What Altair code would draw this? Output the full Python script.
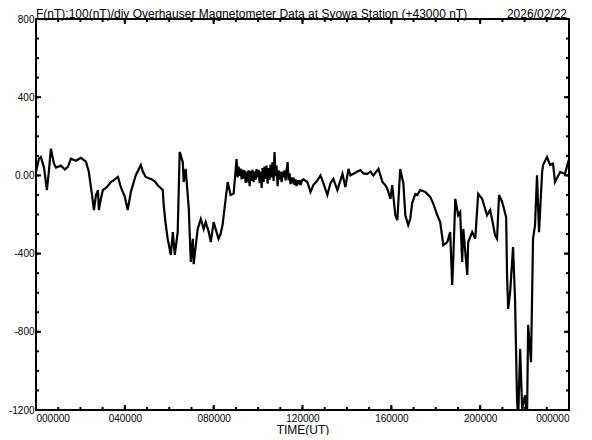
import altair as alt
import pandas as pd

# Traced series: time (hours UT) and F deviation (nT, relative to +43000 nT)
hours_early = [0.00,0.13,0.22,0.36,0.49,0.58,0.67,0.81,0.90,1.12,1.30,1.44,1.57,1.80,2.02,2.25,2.38,2.52,2.61,2.70,
               2.79,2.83,2.92,3.01,3.19,3.37,3.55,3.69,3.82,4.00,4.13,4.27,4.49,4.72,4.81,4.94,5.17,5.35,5.48,5.71,
               5.75,5.84,5.93,6.07,6.16,6.25,6.38,6.47,6.61,6.65,6.74,6.88,6.97,7.06,7.10,7.28,7.42,7.55,7.64,7.78,
               7.87,8.00,8.13,8.22,8.31,8.40,8.54,8.63,8.76,8.90]
values_early = [17,85,94,40,-75,20,137,60,40,50,30,45,85,75,90,70,17,-100,-177,-100,
                -75,-177,-120,-75,-60,-34,-20,-8,-60,-110,-177,-85,0,53,20,-8,-18,-30,-50,-75,
                -152,-250,-324,-407,-290,-407,-290,120,68,-34,33,-172,-443,-324,-454,-274,-223,-274,-239,-290,
                -341,-239,-290,-324,-300,-254,-120,-34,-100,-93]

hours_noisy = [9.03,9.08,9.12,9.17,9.21,9.26,9.30,9.35,9.39,9.44,9.48,9.53,9.57,9.62,9.66,9.71,9.75,9.80,9.84,9.89,
               9.93,9.98,10.02,10.07,10.11,10.16,10.20,10.25,10.29,10.34,10.38,10.43,10.47,10.52,10.56,10.61,10.65,10.70,10.74,10.79,
               10.83,10.88,10.92,10.97,11.01,11.06,11.10,11.15,11.19,11.24,11.28,11.33,11.37,11.42,11.46,11.51,11.55,11.60,11.64,11.69,
               11.73,11.78,11.82,11.87,11.91,11.98]
values_noisy = [84,-10,45,-3,35,-20,29,-16,26,-39,20,-34,26,-55,23,-28,29,-34,20,-22,
                32,-10,29,-40,20,-64,37,-34,45,-16,50,-43,38,-22,56,-10,68,-28,120,-4,
                50,-55,26,-22,18,-34,20,-10,26,-25,22,68,-25,10,-45,-10,-40,-12,-48,-20,
                -55,-25,-45,-25,-50,-25]

hours_late = [12.04,12.22,12.36,12.49,
              12.67,12.81,12.94,13.12,13.26,13.39,13.57,13.80,13.93,14.07,14.16,14.29,14.47,14.61,14.74,14.92,15.06,15.19,15.42,15.60,
              15.73,15.82,15.96,16.04,16.18,16.27,16.40,16.54,16.63,16.76,16.85,16.94,17.08,17.17,17.30,17.53,17.75,17.89,18.07,18.20,
              18.34,18.52,18.65,18.74,18.79,18.88,19.01,19.10,19.19,19.24,19.42,19.46,19.64,19.78,19.91,20.09,20.31,20.45,20.58,20.67,
              20.76,20.85,20.99,21.17,21.21,21.26,21.35,21.48,21.57,21.66,21.71,21.80,21.89,22.02,22.11,22.16,22.29,22.38,22.47,22.56,
              22.65,22.79,22.83,23.01,23.15,23.28,23.37,23.60,23.82,23.96,24.00]
values_late = [-20,-34,-85,-50,
               -25,0,-40,-100,-40,-18,-75,8,-60,33,0,8,20,27,10,8,20,0,33,-34,
               -50,-68,-120,-50,-204,-229,33,-40,-204,-254,-223,-140,-95,-100,-75,-85,-110,-145,-204,-239,
               -357,-341,-290,-560,-427,-120,-204,-188,-443,-274,-509,-341,-290,-324,-95,-120,-204,-177,-250,-307,
               -324,-100,-136,-214,-509,-683,-597,-367,-632,-1143,-1250,-888,-1194,-1125,-1250,-765,-955,-324,-254,0,
               -290,17,53,94,53,60,-34,17,8,68,80]

x_major = [0, 4, 8, 12, 16, 20, 24]
x_minor = list(range(0, 25))
y_major = [-1200, -800, -400, 0, 400, 800]
y_minor = list(range(-1200, 801, 100))

W, H = 533, 391
FONT = "Liberation Sans"
XTITLE = "TIME(UT)"

df = pd.DataFrame({"h": hours_early + hours_noisy + hours_late,
                   "f": values_early + values_noisy + values_late})
xs = alt.Scale(domain=[0, 24], nice=False, zero=False)
ys = alt.Scale(domain=[-1200, 800], nice=False, zero=False)

line = alt.Chart(df).mark_line(color="black", strokeWidth=2.2, clip=True).encode(
    x=alt.X("h:Q", scale=xs, title=XTITLE,
            axis=alt.Axis(values=x_major, ticks=False, domain=False, grid=False,
                          labelExpr="datum.value == 24 ? '000000' : (datum.value < 10 ? '0' : '') + datum.value + '0000'",
                          labelFont=FONT, labelFontSize=10, labelColor="black", labelPadding=3,
                          titleFont=FONT, titleFontSize=12, titleFontWeight="normal", titleColor="black",
                          titlePadding=1)),
    y=alt.Y("f:Q", scale=ys, title=None,
            axis=alt.Axis(values=y_major, ticks=False, domain=False, grid=False,
                          labelExpr="datum.value == 0 ? '0.00' : '' + datum.value",
                          labelFont=FONT, labelFontSize=10, labelColor="black", labelPadding=2)),
)

def xticks(vals, length):
    d = pd.DataFrame({"h": vals})
    b = alt.Chart(d).mark_rule(color="black", strokeWidth=2)
    bottom = b.encode(x=alt.X("h:Q", scale=xs, title=XTITLE), y=alt.value(H), y2=alt.value(H - length))
    top = b.encode(x=alt.X("h:Q", scale=xs, title=XTITLE), y=alt.value(0), y2=alt.value(length))
    return [bottom, top]

def yticks(vals, length):
    d = pd.DataFrame({"f": vals})
    b = alt.Chart(d).mark_rule(color="black", strokeWidth=2)
    left = b.encode(y=alt.Y("f:Q", scale=ys, title=None), x=alt.value(0), x2=alt.value(length))
    right = b.encode(y=alt.Y("f:Q", scale=ys, title=None), x=alt.value(W), x2=alt.value(W - length))
    return [left, right]

title_txt = alt.Chart(pd.DataFrame({"t": ["F(nT):100(nT)/div  Overhauser Magnetometer Data at Syowa Station (+43000 nT)"]})).mark_text(
    align="left", baseline="alphabetic", font=FONT, fontSize=12, color="black"
).encode(x=alt.value(0), y=alt.value(-1), text="t:N")

date_txt = alt.Chart(pd.DataFrame({"t": ["2026/02/22"]})).mark_text(
    align="right", baseline="alphabetic", font=FONT, fontSize=12, color="black"
).encode(x=alt.value(W - 2), y=alt.value(-1), text="t:N")

chart = alt.layer(
    line, *xticks(x_minor, 3), *xticks(x_major, 5), *yticks(y_minor, 3), *yticks(y_major, 5),
    title_txt, date_txt
).properties(
    width=W, height=H, padding=0, background="white"
).configure_view(stroke="black", strokeWidth=2)

chart.save("out.html", embed_options={"renderer": "svg", "actions": False})
